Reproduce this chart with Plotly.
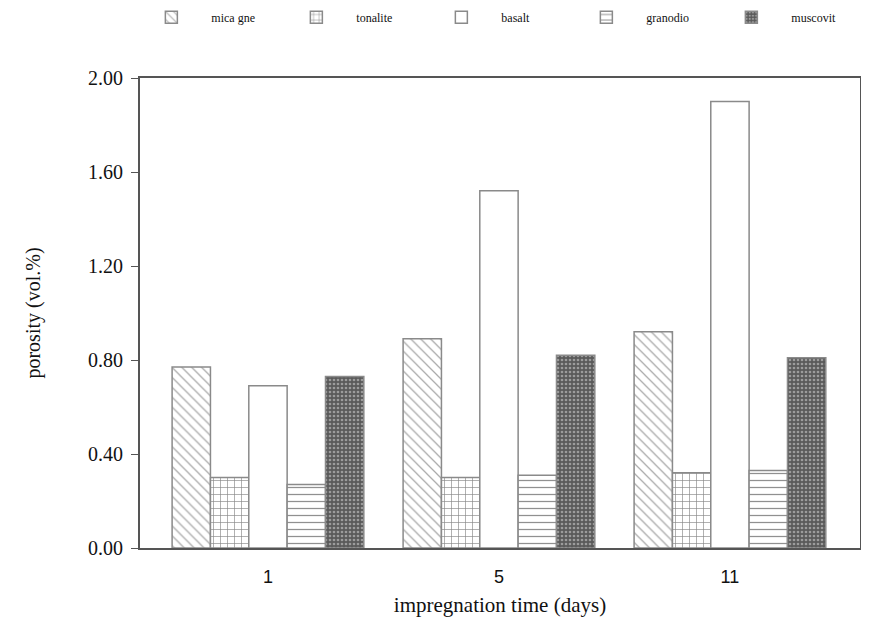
import plotly.graph_objects as go

days = ["1", "5", "11"]
rocks = ["mica gne", "tonalite", "basalt", "granodio", "muscovit"]
mica_gne = [0.77, 0.89, 0.92]
tonalite = [0.30, 0.30, 0.32]
basalt = [0.69, 1.52, 1.90]
granodio = [0.27, 0.31, 0.33]
muscovit = [0.73, 0.82, 0.81]
y_ticks = [0.0, 0.4, 0.8, 1.2, 1.6, 2.0]

values = [mica_gne, tonalite, basalt, granodio, muscovit]
patterns = [
    dict(shape="\\", fgcolor="#555555", bgcolor="white", size=7, solidity=0.18),
    dict(shape="+", fgcolor="#111111", bgcolor="white", size=7, solidity=0.18),
    dict(shape="", bgcolor="white"),
    dict(shape="-", fgcolor="#222222", bgcolor="white", size=7, solidity=0.18),
    dict(shape=".", fgcolor="#dddddd", bgcolor="#5a5a5a", size=4, solidity=0.35),
]

fig = go.Figure()
for name, vals, pat in zip(rocks, values, patterns):
    fig.add_trace(go.Bar(
        x=days, y=vals, name=name,
        marker=dict(color="white", pattern=pat,
                    line=dict(color="#8a8a8a", width=1.5)),
    ))

serif = "Liberation Serif"
fig.update_layout(
    width=853, height=616,
    margin=dict(l=132, r=1, t=70, b=76, autoexpand=False),
    paper_bgcolor="white", plot_bgcolor="white",
    barmode="group", bargap=0.17, bargroupgap=0,
    showlegend=True,
    legend=dict(orientation="h", x=-0.012, xanchor="left", y=1.16, yanchor="top",
                entrywidth=60, entrywidthmode="pixels",
                font=dict(family=serif, size=12, color="#111"),
                itemwidth=70, bgcolor="rgba(0,0,0,0)"),
    xaxis=dict(type="category", range=[-0.554, 2.563], automargin=False,
               showline=True, linecolor="#555", linewidth=2, mirror=True,
               ticks="", showgrid=False, ticklabelstandoff=11,
               tickfont=dict(family="Liberation Sans", size=18, color="#111"),
               title=dict(text="impregnation time (days)",
                          font=dict(family=serif, size=21, color="#111"), standoff=12)),
    yaxis=dict(range=[0, 2.0], tickvals=y_ticks, automargin=False,
               ticktext=[f"{v:.2f}" for v in y_ticks],
               showline=True, linecolor="#555", linewidth=2, mirror=True,
               ticks="outside", ticklen=7, tickcolor="#555", showgrid=False,
               ticklabelstandoff=4,
               tickfont=dict(family=serif, size=20, color="#111"),
               title=dict(text="porosity (vol.%)",
                          font=dict(family=serif, size=20, color="#111"), standoff=42)),
)

fig.write_html("out.html")
